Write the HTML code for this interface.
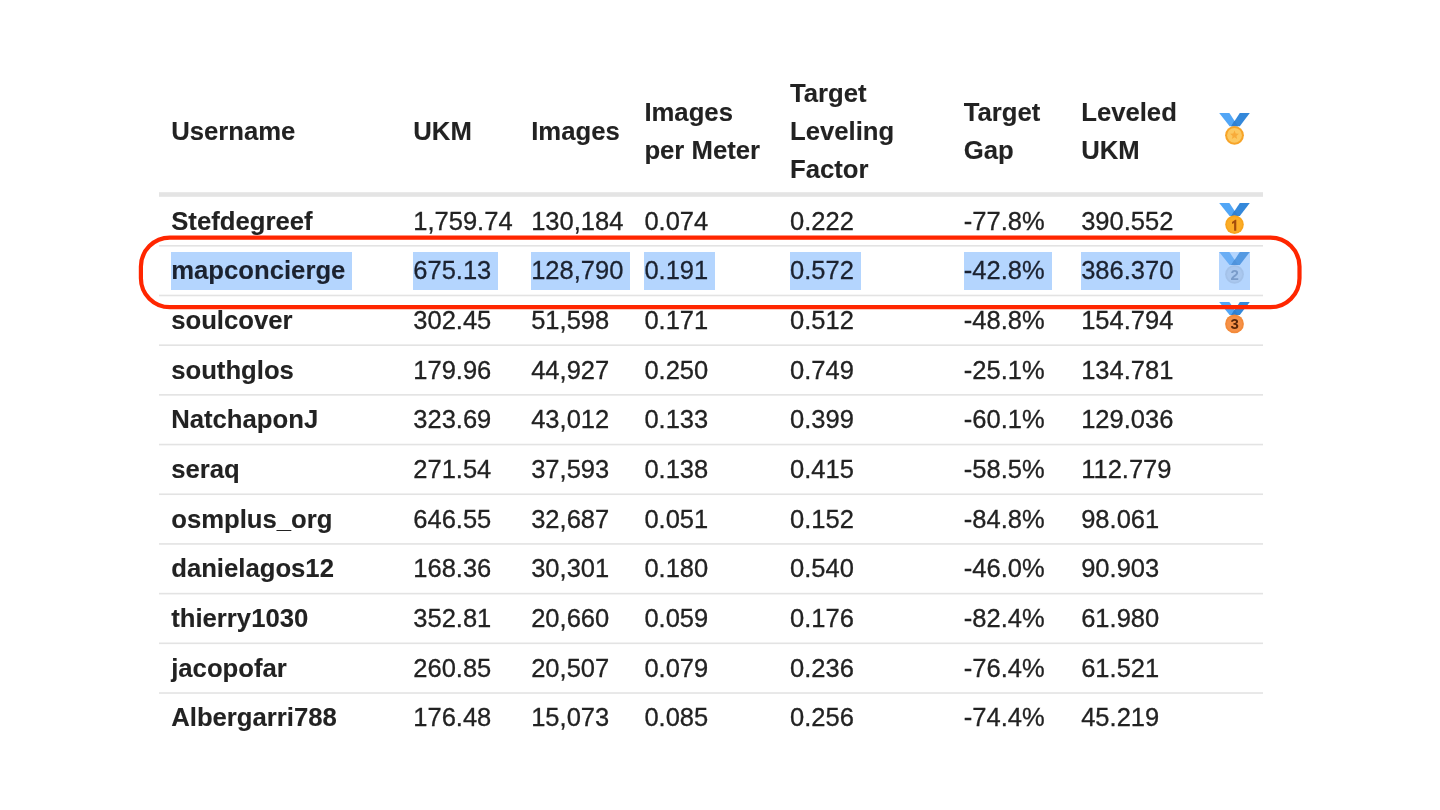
<!DOCTYPE html>
<html><head><meta charset="utf-8"><title>Leaderboard</title>
<style>
html,body{margin:0;padding:0;background:#fff;}
body{width:1440px;height:810px;position:relative;overflow:hidden;font-family:"Liberation Sans",sans-serif;font-size:25.5px;line-height:38.3px;color:#222222;}
.tx{position:absolute;left:0;top:0;width:1440px;height:810px;will-change:transform;}
.c{position:absolute;white-space:pre;-webkit-text-stroke:0.3px #222222;}
.c.b{-webkit-text-stroke:0.1px #222222;}
.b{font-weight:bold;font-size:25.7px;}
.hl{color:#1b2230;-webkit-text-stroke-color:#1b2230;}
.hlb{position:absolute;top:252px;height:38px;background:#b4d5fe;}
.ln{position:absolute;left:159px;width:1104px;height:2px;background:#ececec;}
.hb{position:absolute;left:159px;width:1104px;top:192px;height:5px;background:#e6e6e6;}
.md{position:absolute;overflow:visible;}
.oval{position:absolute;left:0;top:0;}
</style></head><body>

<svg class="oval" width="1440" height="810" viewBox="0 0 1440 810"><rect x="159" y="192.2" width="1104" height="4.6" fill="#e4e4e4"/><rect x="159" y="245.00" width="1104" height="1.6" fill="#e3e3e3"/><rect x="159" y="294.69" width="1104" height="1.6" fill="#e3e3e3"/><rect x="159" y="344.38" width="1104" height="1.6" fill="#e3e3e3"/><rect x="159" y="394.07" width="1104" height="1.6" fill="#e3e3e3"/><rect x="159" y="443.76" width="1104" height="1.6" fill="#e3e3e3"/><rect x="159" y="493.45" width="1104" height="1.6" fill="#e3e3e3"/><rect x="159" y="543.14" width="1104" height="1.6" fill="#e3e3e3"/><rect x="159" y="592.83" width="1104" height="1.6" fill="#e3e3e3"/><rect x="159" y="642.52" width="1104" height="1.6" fill="#e3e3e3"/><rect x="159" y="692.21" width="1104" height="1.6" fill="#e3e3e3"/></svg>
<div class="hlb" style="left:171px;width:181px"></div>
<div class="hlb" style="left:413px;width:85px"></div>
<div class="hlb" style="left:531px;width:99px"></div>
<div class="hlb" style="left:644px;width:71px"></div>
<div class="hlb" style="left:790px;width:71px"></div>
<div class="hlb" style="left:964px;width:88px"></div>
<div class="hlb" style="left:1081px;width:99px"></div>
<div class="hlb" style="left:1219px;width:31px"></div>
<div class="tx">
<div class="c b" style="left:171.2px;top:111.91px">Username</div>
<div class="c b" style="left:413.3px;top:111.91px">UKM</div>
<div class="c b" style="left:531.2px;top:111.91px">Images</div>
<div class="c b" style="left:644.4px;top:92.76px">Images<br>per Meter</div>
<div class="c b" style="left:790.0px;top:73.61px">Target<br>Leveling<br>Factor</div>
<div class="c b" style="left:963.8px;top:92.76px">Target<br>Gap</div>
<div class="c b" style="left:1081.2px;top:92.76px">Leveled<br>UKM</div>
<svg class="md" style="left:1218.9px;top:113.2px" width="32" height="38" viewBox="0 0 32 38"><polygon points="0.2,0 10.4,0 19.0,13.2 10.6,13.2" fill="#52a6f6"/><polygon points="20.8,0 30.8,0 20.8,13.2 12.2,13.2" fill="#3488da"/><polygon points="15.6,7.6 19.0,13.2 12.2,13.2" fill="#2f80d2"/><circle cx="15.5" cy="22.3" r="9.4" fill="#f7a428"/><circle cx="15.5" cy="22.3" r="7.4" fill="#fcc860"/><path d="M15.5 17.6 L16.7 20.6 L19.9 20.8 L17.4 22.9 L18.2 26.0 L15.5 24.3 L12.8 26.0 L13.6 22.9 L11.1 20.8 L14.3 20.6 Z" fill="#f8ab3a"/></svg>
<div class="c b" style="left:171.2px;top:201.51px">Stefdegreef</div>
<div class="c" style="left:413.3px;top:201.51px">1,759.74</div>
<div class="c" style="left:531.2px;top:201.51px">130,184</div>
<div class="c" style="left:644.4px;top:201.51px">0.074</div>
<div class="c" style="left:790.0px;top:201.51px">0.222</div>
<div class="c" style="left:963.8px;top:201.51px">-77.8%</div>
<div class="c" style="left:1081.2px;top:201.51px">390.552</div>
<svg class="md" style="left:1219.1px;top:203.3px" width="32" height="38" viewBox="0 0 32 38"><polygon points="0.2,0 10.4,0 19.0,12.9 10.6,12.9" fill="#52a6f6"/><polygon points="20.8,0 30.8,0 20.8,12.9 12.2,12.9" fill="#3488da"/><polygon points="15.6,7.6 19.0,12.9 12.2,12.9" fill="#2f80d2"/><circle cx="15.5" cy="21.6" r="9.3" fill="#f8a41e"/><circle cx="15.5" cy="21.6" r="7.6" fill="#fbad27"/><path d="M13.0 18.9 L16.3 16.7 L17.3 16.7 L17.3 27.8 L15.1 27.8 L15.1 19.9 L13.0 21.0 Z" fill="#a34d0c"/></svg>
<div class="c b hl" style="left:171.2px;top:251.19px">mapconcierge</div>
<div class="c hl" style="left:413.3px;top:251.19px">675.13</div>
<div class="c hl" style="left:531.2px;top:251.19px">128,790</div>
<div class="c hl" style="left:644.4px;top:251.19px">0.191</div>
<div class="c hl" style="left:790.0px;top:251.19px">0.572</div>
<div class="c hl" style="left:963.8px;top:251.19px">-42.8%</div>
<div class="c hl" style="left:1081.2px;top:251.19px">386.370</div>
<svg class="md" style="left:1219.1px;top:252.2px" width="32" height="38" viewBox="0 0 32 38"><polygon points="0.2,0 10.4,0 19.0,12.9 10.6,12.9" fill="#6aaef5"/><polygon points="20.8,0 30.8,0 20.8,12.9 12.2,12.9" fill="#5499e2"/><polygon points="15.6,7.6 19.0,12.9 12.2,12.9" fill="#4f93dc"/><circle cx="15.5" cy="22.3" r="9.4" fill="#a4c2e9"/><circle cx="15.5" cy="22.3" r="7.6" fill="#aac8ef"/><text x="15.7" y="27.6" font-family="Liberation Sans" font-weight="bold" font-size="15" text-anchor="middle" fill="#7a9cca">2</text></svg>
<div class="c b" style="left:171.2px;top:300.87px">soulcover</div>
<div class="c" style="left:413.3px;top:300.87px">302.45</div>
<div class="c" style="left:531.2px;top:300.87px">51,598</div>
<div class="c" style="left:644.4px;top:300.87px">0.171</div>
<div class="c" style="left:790.0px;top:300.87px">0.512</div>
<div class="c" style="left:963.8px;top:300.87px">-48.8%</div>
<div class="c" style="left:1081.2px;top:300.87px">154.794</div>
<svg class="md" style="left:1219.1px;top:302.4px" width="32" height="38" viewBox="0 0 32 38"><polygon points="0.2,0 10.4,0 19.0,12.9 10.6,12.9" fill="#52a6f6"/><polygon points="20.8,0 30.8,0 20.8,12.9 12.2,12.9" fill="#3488da"/><polygon points="15.6,7.6 19.0,12.9 12.2,12.9" fill="#2f80d2"/><circle cx="15.5" cy="21.9" r="9.4" fill="#f38a3a"/><circle cx="15.5" cy="21.9" r="7.6" fill="#f69148"/><text x="15.6" y="27.4" font-family="Liberation Sans" font-weight="bold" font-size="15" text-anchor="middle" fill="#5a2608">3</text></svg>
<div class="c b" style="left:171.2px;top:350.55px">southglos</div>
<div class="c" style="left:413.3px;top:350.55px">179.96</div>
<div class="c" style="left:531.2px;top:350.55px">44,927</div>
<div class="c" style="left:644.4px;top:350.55px">0.250</div>
<div class="c" style="left:790.0px;top:350.55px">0.749</div>
<div class="c" style="left:963.8px;top:350.55px">-25.1%</div>
<div class="c" style="left:1081.2px;top:350.55px">134.781</div>
<div class="c b" style="left:171.2px;top:400.23px">NatchaponJ</div>
<div class="c" style="left:413.3px;top:400.23px">323.69</div>
<div class="c" style="left:531.2px;top:400.23px">43,012</div>
<div class="c" style="left:644.4px;top:400.23px">0.133</div>
<div class="c" style="left:790.0px;top:400.23px">0.399</div>
<div class="c" style="left:963.8px;top:400.23px">-60.1%</div>
<div class="c" style="left:1081.2px;top:400.23px">129.036</div>
<div class="c b" style="left:171.2px;top:449.91px">seraq</div>
<div class="c" style="left:413.3px;top:449.91px">271.54</div>
<div class="c" style="left:531.2px;top:449.91px">37,593</div>
<div class="c" style="left:644.4px;top:449.91px">0.138</div>
<div class="c" style="left:790.0px;top:449.91px">0.415</div>
<div class="c" style="left:963.8px;top:449.91px">-58.5%</div>
<div class="c" style="left:1081.2px;top:449.91px">112.779</div>
<div class="c b" style="left:171.2px;top:499.59px">osmplus_org</div>
<div class="c" style="left:413.3px;top:499.59px">646.55</div>
<div class="c" style="left:531.2px;top:499.59px">32,687</div>
<div class="c" style="left:644.4px;top:499.59px">0.051</div>
<div class="c" style="left:790.0px;top:499.59px">0.152</div>
<div class="c" style="left:963.8px;top:499.59px">-84.8%</div>
<div class="c" style="left:1081.2px;top:499.59px">98.061</div>
<div class="c b" style="left:171.2px;top:549.27px">danielagos12</div>
<div class="c" style="left:413.3px;top:549.27px">168.36</div>
<div class="c" style="left:531.2px;top:549.27px">30,301</div>
<div class="c" style="left:644.4px;top:549.27px">0.180</div>
<div class="c" style="left:790.0px;top:549.27px">0.540</div>
<div class="c" style="left:963.8px;top:549.27px">-46.0%</div>
<div class="c" style="left:1081.2px;top:549.27px">90.903</div>
<div class="c b" style="left:171.2px;top:598.95px">thierry1030</div>
<div class="c" style="left:413.3px;top:598.95px">352.81</div>
<div class="c" style="left:531.2px;top:598.95px">20,660</div>
<div class="c" style="left:644.4px;top:598.95px">0.059</div>
<div class="c" style="left:790.0px;top:598.95px">0.176</div>
<div class="c" style="left:963.8px;top:598.95px">-82.4%</div>
<div class="c" style="left:1081.2px;top:598.95px">61.980</div>
<div class="c b" style="left:171.2px;top:648.63px">jacopofar</div>
<div class="c" style="left:413.3px;top:648.63px">260.85</div>
<div class="c" style="left:531.2px;top:648.63px">20,507</div>
<div class="c" style="left:644.4px;top:648.63px">0.079</div>
<div class="c" style="left:790.0px;top:648.63px">0.236</div>
<div class="c" style="left:963.8px;top:648.63px">-76.4%</div>
<div class="c" style="left:1081.2px;top:648.63px">61.521</div>
<div class="c b" style="left:171.2px;top:698.31px">Albergarri788</div>
<div class="c" style="left:413.3px;top:698.31px">176.48</div>
<div class="c" style="left:531.2px;top:698.31px">15,073</div>
<div class="c" style="left:644.4px;top:698.31px">0.085</div>
<div class="c" style="left:790.0px;top:698.31px">0.256</div>
<div class="c" style="left:963.8px;top:698.31px">-74.4%</div>
<div class="c" style="left:1081.2px;top:698.31px">45.219</div>
</div>
<svg class="oval" width="1440" height="810" viewBox="0 0 1440 810"><rect x="140.9" y="237.6" width="1158.6" height="69.6" rx="29" ry="29" fill="none" stroke="#ff2600" stroke-width="4.2"/></svg>
</body></html>
